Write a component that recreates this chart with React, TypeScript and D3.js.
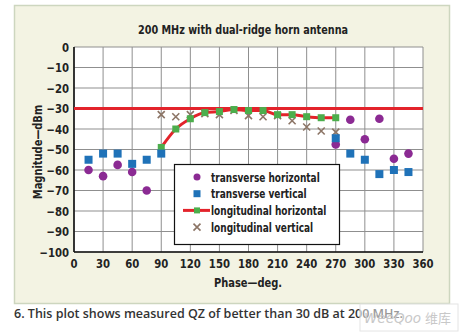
import * as d3 from "d3";

const thPhase = [15, 30, 45, 60, 75, 270, 285, 300, 315, 330, 345];
const thMag = [-60, -63, -57.5, -61, -70, -47.5, -35.5, -45, -35, -54.5, -52];
const tvPhase = [15, 30, 45, 60, 75, 90, 270, 285, 300, 315, 330, 345];
const tvMag = [-55, -52, -52, -57, -55, -52, -44.5, -52, -55, -62, -60, -61];
const lhPhase = [90, 105, 120, 135, 150, 165, 180, 195, 210, 225, 240, 255, 270];
const lhMag = [-49, -40, -35, -32, -31.5, -30.5, -31, -31, -33, -33, -34, -34.5, -34.5];
const lvPhase = [90, 105, 120, 135, 150, 165, 180, 195, 210, 225, 240, 255, 270];
const lvMag = [-33, -34, -33, -32.5, -33, -31, -33.5, -34, -33.5, -36, -39, -41, -41.5];
const limit = -30;

const xTicks = d3.range(0, 361, 30);
const yTicks = d3.range(0, -101, -10);
const legendLabels = ["transverse horizontal", "transverse vertical", "longitudinal horizontal", "longitudinal vertical"];

const PURPLE = "#8b2a93";
const BLUE = "#1f72b8";
const GREEN = "#4cae4c";
const RED = "#e3232b";
const CROSS = "#8c7566";
const cond = "'DejaVu Sans Condensed', 'Liberation Sans Narrow', 'Roboto Condensed', sans-serif";

export default function App() {
  const x = d3.scaleLinear().domain([0, 360]).range([74, 423]);
  const y = d3.scaleLinear().domain([0, -100]).range([47, 252]);

  const curve = d3
    .line<number>()
    .x((_, i) => x(lhPhase[i]))
    .y((d) => y(d))
    .curve(d3.curveMonotoneX);

  const cross = (cx: number, cy: number, k: string) => (
    <path key={k} d={`M${cx - 3.5},${cy - 3.5}L${cx + 3.5},${cy + 3.5}M${cx - 3.5},${cy + 3.5}L${cx + 3.5},${cy - 3.5}`}
      stroke={CROSS} strokeWidth={1.6} />
  );

  const lx = 197;
  const ly = (i: number) => 177 + i * 16.7;

  return (
    <svg width={464} height={334} style={{ position: "absolute", left: 0, top: 0, background: "#fff" }}>
      <rect x={14.5} y={5.5} width={435} height={298} fill="#f3f3e3" stroke="#cdd6bf" strokeWidth={1.5} />
      <text transform="translate(243,34) scale(0.86,1)" textAnchor="middle" fontFamily={cond} fontWeight="bold" fontSize={12.5} fill="#222">
        200 MHz with dual-ridge horn antenna
      </text>

      <rect x={x(0)} y={y(0)} width={x(360) - x(0)} height={y(-100) - y(0)} fill="#fff" />
      {xTicks.map((t) => (
        <line key={"gx" + t} x1={x(t)} x2={x(t)} y1={y(0)} y2={y(-100)} stroke="#8f8f8f" strokeWidth={1} />
      ))}
      {yTicks.map((t) => (
        <line key={"gy" + t} x1={x(0)} x2={x(360)} y1={y(t)} y2={y(t)} stroke="#8f8f8f" strokeWidth={1} />
      ))}
      <line x1={x(0)} x2={x(0)} y1={y(0)} y2={y(-100)} stroke="#111" strokeWidth={1.6} />
      <line x1={x(0)} x2={x(360)} y1={y(-100)} y2={y(-100)} stroke="#111" strokeWidth={1.6} />

      {yTicks.map((t) => (
        <text key={"ty" + t} transform={`translate(69,${y(t) + 4.5}) scale(0.9,1)`} textAnchor="end" fontFamily={cond} fontWeight="bold" fontSize={12.5} fill="#222">
          {t === 0 ? "0" : "\u2212" + Math.abs(t)}
        </text>
      ))}
      {xTicks.map((t) => (
        <text key={"tx" + t} transform={`translate(${x(t)},268) scale(0.9,1)`} textAnchor="middle" fontFamily={cond} fontWeight="bold" fontSize={12.5} fill="#222">
          {t}
        </text>
      ))}
      <text transform="translate(248,287) scale(0.88,1)" textAnchor="middle" fontFamily={cond} fontWeight="bold" fontSize={12.5} fill="#222">
        Phase—deg.
      </text>
      <text transform="translate(42,152) rotate(-90) scale(0.88,1)" textAnchor="middle" fontFamily={cond} fontWeight="bold" fontSize={12.5} fill="#222">
        Magnitude—dBm
      </text>

      <line x1={x(0)} x2={x(360)} y1={y(limit)} y2={y(limit)} stroke={RED} strokeWidth={3} />

      {lvMag.map((m, i) => cross(x(lvPhase[i]), y(m), "lv" + i))}
      <path d={curve(lhMag) ?? ""} fill="none" stroke={RED} strokeWidth={3} />
      {lhMag.map((m, i) => (
        <rect key={"lh" + i} x={x(lhPhase[i]) - 3.5} y={y(m) - 3.5} width={7} height={7} fill={GREEN} />
      ))}
      {thMag.map((m, i) => (
        <circle key={"th" + i} cx={x(thPhase[i])} cy={y(m)} r={4.3} fill={PURPLE} />
      ))}
      {tvMag.map((m, i) => (
        <rect key={"tv" + i} x={x(tvPhase[i]) - 4} y={y(m) - 4} width={8} height={8} fill={BLUE} />
      ))}

      <rect x={174.5} y={164.5} width={165} height={80} fill="#fff" stroke="#111" strokeWidth={1.2} />
      <circle cx={lx} cy={ly(0)} r={3.5} fill={PURPLE} />
      <rect x={lx - 3.5} y={ly(1) - 3.5} width={7} height={7} fill={BLUE} />
      <line x1={183} x2={210} y1={ly(2)} y2={ly(2)} stroke={RED} strokeWidth={3} />
      <rect x={lx - 3} y={ly(2) - 3} width={6} height={6} fill={GREEN} />
      {cross(lx, ly(3), "lgx")}
      {legendLabels.map((s, i) => (
        <text key={s} transform={`translate(211,${ly(i) + 4.5}) scale(0.8,1)`} fontFamily={cond} fontWeight="bold" fontSize={12.5} fill="#222">
          {s}
        </text>
      ))}

      <text x={14} y={318} fontFamily="'Open Sans', 'Noto Sans', sans-serif" fontSize={12.5} fontWeight={600} fill="#333">
        6. This plot shows measured QZ of better than 30 dB at 200 MHz.
      </text>
      <rect x={360} y={304} width={98} height={27} fill="#fff" fillOpacity={0.5} stroke="#e4e4e4" />
      <text x={364} y={323} fontFamily="'DejaVu Sans', sans-serif" fontStyle="italic" fontSize={13.5} fill="#c8c8c8">
        WeeQoo
      </text>
      <text x={425} y={323} fontFamily="'Noto Sans CJK SC', sans-serif" fontSize={13} fill="#c8c8c8">
        维库
      </text>
    </svg>
  );
}
